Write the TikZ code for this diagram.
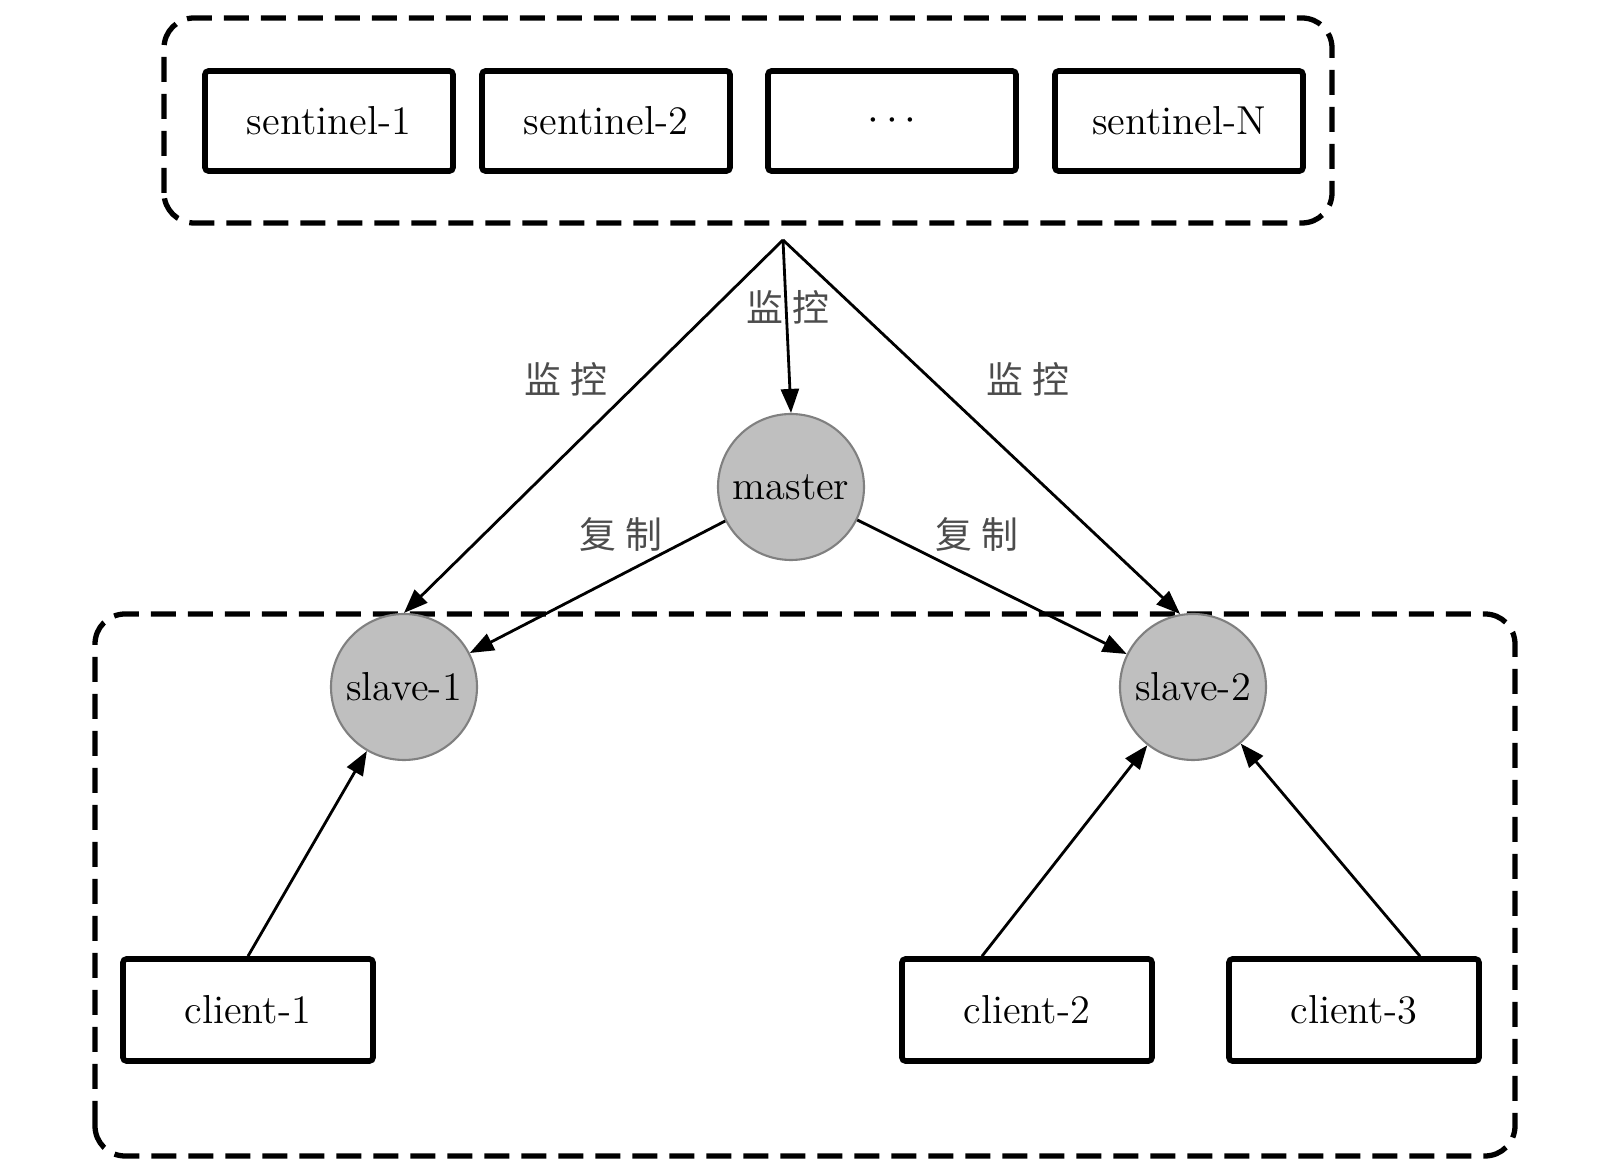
\documentclass[tikz,border=0pt]{standalone}
\usepackage{fontspec}
\newfontfamily\cjk{Noto Sans CJK SC}
\usetikzlibrary{arrows.meta}
\tikzset{
  sbox/.style={draw,line width=1.6pt,rounded corners=1pt,minimum width=2.48cm,minimum height=1cm,font=\fontsize{11.5}{13}\selectfont},
  srv/.style={circle,draw=black!50,fill=black!25,line width=0.6pt,minimum size=1.46cm,inner sep=0pt,font=\fontsize{11.5}{13}\selectfont},
  grp/.style={line width=1.5pt,dash pattern=on 0.25cm off 0.12cm,rounded corners=0.3cm},
  arr/.style={-{Triangle[length=2.4mm,width=1.8mm]},line width=0.8pt},
  lbl/.style={font=\cjk\fontsize{10.5}{12}\selectfont,text=black!70}
}

\begin{document}
\begin{tikzpicture}

\useasboundingbox (0,0) rectangle (16.04,11.66);

\draw[grp] (1.64,9.43) rectangle (13.32,11.48);

\draw[grp] (0.95,0.10) rectangle (15.15,5.52);

\node[sbox] (s1) at (3.29,10.45) {sentinel-1};

\node[sbox] (s2) at (6.06,10.45) {sentinel-2};

\node[sbox] (sdots) at (8.92,10.45) {$\cdots$};

\node[sbox] (sN) at (11.79,10.45) {sentinel-N};

\coordinate (apex) at (7.83,9.26);

\node[srv] (master) at (7.91,6.79) {master};

\node[srv] (slave1) at (4.04,4.79) {slave-1};

\node[srv] (slave2) at (11.93,4.79) {slave-2};

\node[sbox,minimum width=2.5cm,minimum height=1.02cm] (c1) at (2.48,1.56) {client-1};

\node[sbox,minimum width=2.5cm,minimum height=1.02cm] (c2) at (10.27,1.56) {client-2};

\node[sbox,minimum width=2.5cm,minimum height=1.02cm] (c3) at (13.54,1.56) {client-3};

\draw[arr] (apex) -- (slave1.north);

\draw[arr] (apex) -- (master.north);

\draw[arr] (apex) -- (slave2.100);

\draw[arr] (master) -- (slave1);

\draw[arr] (master) -- (slave2);

\draw[arr] (c1.north) -- (slave1);

\draw[arr] ([xshift=-0.45cm]c2.north) -- (slave2);

\draw[arr] ([xshift=0.66cm]c3.north) -- (slave2);

\node[lbl] (mon1) at (5.66,7.87) {监\hspace{0.25em}控};

\node[lbl] (mon2) at (7.88,8.59) {监\hspace{0.25em}控};

\node[lbl] (mon3) at (10.28,7.87) {监\hspace{0.25em}控};

\node[lbl] (rep1) at (6.21,6.32) {复\hspace{0.25em}制};

\node[lbl] (rep2) at (9.77,6.32) {复\hspace{0.25em}制};

\end{tikzpicture}
\end{document}
